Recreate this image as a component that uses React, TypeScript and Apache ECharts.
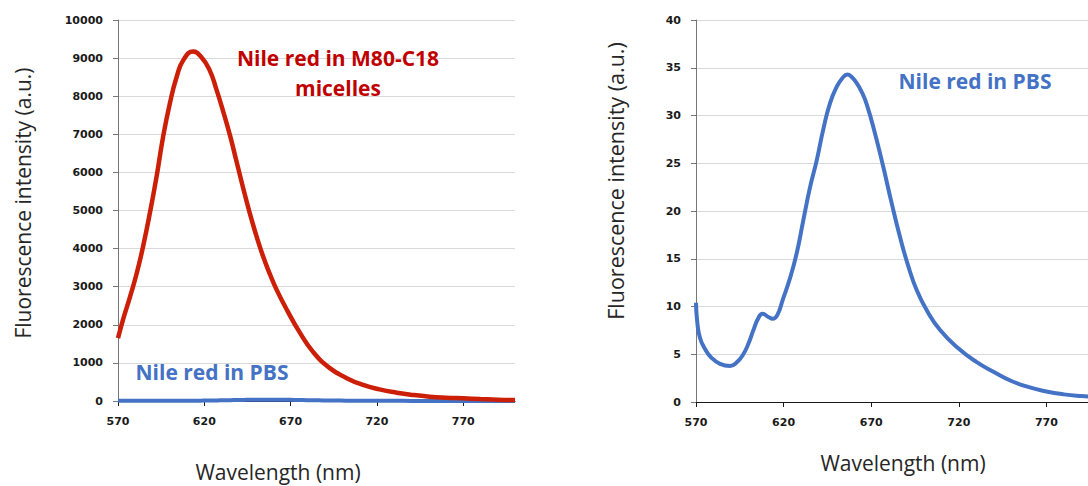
import React, { useEffect, useRef } from "react";
import * as echarts from "echarts";

// Nile red in M80-C18 micelles (left panel, red)
const micelleWl = [570, 573, 577, 581, 584.5, 588.5, 592.5, 596, 600, 604, 608, 613.5, 618, 623, 627, 631, 635, 638.6, 642.5, 646.3, 650.2, 654.1, 658, 662, 668, 675, 683, 692.5, 702.5, 712, 721.5, 731.5, 741, 750.5, 760, 770, 780, 790, 800];
const micelleIntensity = [1650, 2150, 2740, 3380, 4050, 4940, 5930, 6900, 7800, 8510, 8960, 9170, 9040, 8690, 8180, 7590, 6950, 6300, 5590, 4940, 4330, 3790, 3330, 2910, 2380, 1820, 1290, 870, 600, 422, 305, 218, 157, 113, 87, 70, 52, 35, 25];

// Nile red in PBS (blue, both panels)
const pbsWl = [570, 570.7, 572.3, 575, 579, 583.7, 589.4, 593, 597, 600, 602.7, 605.6, 608, 611.3, 613.8, 616.4, 619.5, 623.7, 627.5, 631.2, 635.1, 638.9, 642.7, 646.5, 650.3, 653.5, 656.4, 659, 661.7, 664.5, 667.4, 672.2, 676.9, 681.7, 686.4, 691.2, 696, 702, 709.3, 719.5, 730, 740, 750, 760, 770, 780, 790, 800];
const pbsIntensity = [10.4, 8.4, 6.7, 5.6, 4.6, 4.0, 3.77, 4.1, 5.0, 6.15, 7.5, 8.8, 9.25, 8.9, 8.72, 9.1, 10.7, 13.0, 15.6, 19.0, 22.5, 25.3, 28.6, 31.3, 33.0, 33.9, 34.3, 34.0, 33.4, 32.5, 31.2, 28.1, 24.6, 20.8, 17.3, 14.2, 11.7, 9.5, 7.54, 5.65, 4.2, 3.15, 2.2, 1.55, 1.1, 0.8, 0.62, 0.5];

const xTicks = [570, 620, 670, 720, 770];
const leftYMax = 10000;
const leftYStep = 1000;
const rightYMax = 40;
const rightYStep = 5;

const TICK_FONT = "DejaVu Sans";
const TITLE_FONT = "Open Sans";

function xAxisCfg(gridIndex: number) {
  return {
    type: "value",
    gridIndex,
    min: 570,
    max: 800,
    splitLine: { show: false },
    axisLine: { show: true, lineStyle: { color: "#1a1a1a", width: 1 } },
    axisTick: { show: true, length: 5, customValues: xTicks, lineStyle: { color: "#1a1a1a" } },
    axisLabel: {
      customValues: xTicks,
      margin: 15,
      color: "#1a1a1a",
      fontFamily: TICK_FONT,
      fontWeight: "bold",
      fontSize: 11,
      formatter: (v: number) => String(v),
    },
  };
}

function yAxisCfg(gridIndex: number, max: number, step: number) {
  return {
    type: "value",
    gridIndex,
    min: 0,
    max,
    interval: step,
    splitLine: { show: true, lineStyle: { color: "#d9d9d9", width: 1 } },
    axisLine: { show: true, lineStyle: { color: "#767676", width: 1 } },
    axisTick: { show: true, length: 5, lineStyle: { color: "#767676" } },
    axisLabel: {
      margin: 15,
      color: "#1a1a1a",
      fontFamily: TICK_FONT,
      fontWeight: "bold",
      fontSize: 11,
      formatter: (v: number) => String(v),
    },
  };
}

function txt(text: string, x: number, y: number, opts: any = {}) {
  return {
    type: "text",
    x,
    y,
    z: 100,
    rotation: opts.rotation || 0,
    silent: true,
    style: {
      text,
      fill: opts.color || "#262626",
      fontFamily: TITLE_FONT,
      fontSize: opts.size || 21,
      fontWeight: opts.bold ? "bold" : "normal",
      align: "center",
      verticalAlign: "middle",
    },
  };
}

export default function App() {
  const ref = useRef<HTMLDivElement>(null);

  useEffect(() => {
    if (!ref.current) return;
    const chart = echarts.init(ref.current, undefined, { renderer: "svg" });
    const micelle = micelleWl.map((w, i) => [w, micelleIntensity[i]]);
    const pbs = pbsWl.map((w, i) => [w, pbsIntensity[i]]);

    chart.setOption({
      animation: false,
      backgroundColor: "#ffffff",
      grid: [
        { left: 118, top: 20, width: 397, height: 381 },
        { left: 696, top: 20, width: 403, height: 382 },
      ],
      xAxis: [xAxisCfg(0), xAxisCfg(1)],
      yAxis: [yAxisCfg(0, leftYMax, leftYStep), yAxisCfg(1, rightYMax, rightYStep)],
      series: [
        {
          name: "Nile red in PBS",
          type: "line",
          xAxisIndex: 0,
          yAxisIndex: 0,
          data: pbs,
          showSymbol: false,
          smooth: true,
          lineStyle: { color: "#4472c4", width: 4 },
          z: 3,
        },
        {
          name: "Nile red in M80-C18 micelles",
          type: "line",
          xAxisIndex: 0,
          yAxisIndex: 0,
          data: micelle,
          showSymbol: false,
          smooth: true,
          lineStyle: { color: "#cc1f08", width: 4.5 },
          z: 4,
        },
        {
          name: "Nile red in PBS (zoom)",
          type: "line",
          xAxisIndex: 1,
          yAxisIndex: 1,
          data: pbs,
          showSymbol: false,
          smooth: true,
          lineStyle: { color: "#4472c4", width: 4 },
          z: 3,
        },
      ],
      graphic: [
        txt("Fluorescence intensity (a.u.)", 23, 203, { rotation: Math.PI / 2 }),
        txt("Fluorescence intensity (a.u.)", 615, 181, { rotation: Math.PI / 2, size: 21.5 }),
        txt("Wavelength (nm)", 278, 472),
        txt("Wavelength (nm)", 903, 463),
        txt("Nile red in M80-C18", 338, 58, { bold: true, color: "#c00000" }),
        txt("micelles", 338, 88, { bold: true, color: "#c00000" }),
        txt("Nile red in PBS", 212, 372, { bold: true, color: "#4472c4" }),
        txt("Nile red in PBS", 975, 81, { bold: true, color: "#4472c4" }),
      ],
    });

    return () => chart.dispose();
  }, []);

  return (
    <div
      style={{
        position: "fixed",
        left: 0,
        top: 0,
        width: 1088,
        height: 486,
        overflow: "hidden",
        background: "#fff",
      }}
    >
      <div ref={ref} style={{ width: 1100, height: 486 }} />
    </div>
  );
}
